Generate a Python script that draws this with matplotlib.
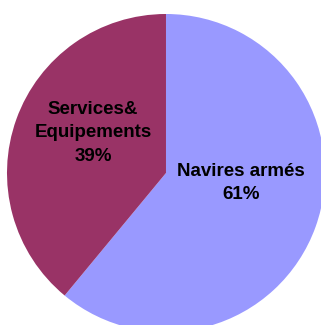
import matplotlib.pyplot as plt

categories = ["Navires armés", "Services&\nEquipements"]
shares = [61, 39]
colors = ["#9999FF", "#993366"]

plt.rcParams["font.family"] = ["Liberation Sans", "DejaVu Sans"]

fig = plt.figure(figsize=(3.21, 3.25), dpi=100)
ax = fig.add_axes([0, 0, 1, 1])

wedges, _ = ax.pie(shares, colors=colors, startangle=90, counterclock=False,
                   radius=1.0, wedgeprops=dict(linewidth=0))

# label placement inside each slice (offset from pie centre)
label_pos = [(0.472, -0.063), (-0.459, 0.252)]
for name, val, (lx, ly) in zip(categories, shares, label_pos):
    ax.text(lx, ly, f"{name}\n{val}%", ha="center", va="center",
            fontsize=13.5, fontweight="bold", color="black", linespacing=1.5)

ax.set_xlim(-1.044, 0.975)
ax.set_ylim(-0.956, 1.088)
ax.set_aspect("auto")
ax.axis("off")

fig.savefig("out.png", dpi=100)
